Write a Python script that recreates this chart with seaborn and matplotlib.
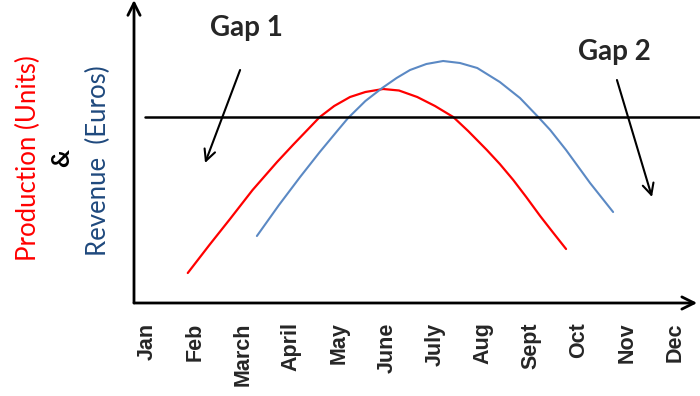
import matplotlib
matplotlib.use("Agg")
import matplotlib.pyplot as plt
import pandas as pd
import seaborn as sns

# month axis
months = ["Jan", "Feb", "March", "April", "May", "June",
          "July", "Aug", "Sept", "Oct", "Nov", "Dec"]

# production curve (red): month position / height
prod_x = [0.85, 1.30, 1.73, 2.20, 2.71, 3.05, 3.33, 3.60, 3.90, 4.23, 4.55, 4.92,
          5.25, 5.63, 6.00, 6.38, 6.69, 7.08, 7.35, 7.63, 7.90, 8.19, 8.45, 8.73]
prod_y = [30, 58, 84, 113, 141, 158.5, 172.5, 186, 197, 206, 211, 214,
          212.5, 206, 197, 186, 172, 153, 139, 123, 106, 87, 71, 54]

# revenue curve (blue)
rev_x = [2.29, 2.75, 3.19, 3.60, 3.98, 4.19, 4.55, 4.90, 5.20, 5.48, 5.82, 6.17,
         6.52, 6.88, 7.35, 7.77, 8.15, 8.40, 8.73, 9.23, 9.71]
rev_y = [67, 98, 126, 151, 173, 185, 202, 215, 225, 233, 239, 242,
         240, 235, 221, 205, 186, 173, 153, 120, 91]

# break-even level
level = 186

prod = pd.DataFrame({"month": prod_x, "value": prod_y})
rev = pd.DataFrame({"month": rev_x, "value": rev_y})

sns.set_style("white")

fig = plt.figure(figsize=(7, 3.96), dpi=100)
ax = fig.add_axes([134 / 700, 93 / 396, 566 / 700, 303 / 396])

sns.lineplot(data=prod, x="month", y="value", sort=False, color="#FF0000", lw=1.6, ax=ax)
sns.lineplot(data=rev, x="month", y="value", sort=False, color="#5B89C4", lw=1.5, ax=ax)
ax.axhline(level, xmin=0.02, xmax=1, color="black", lw=1.8)

ax.set_xlim(-0.27, 11.52)
ax.set_ylim(0, 303)
for s in ax.spines.values():
    s.set_visible(False)
ax.set_xlabel("")
ax.set_ylabel("")
ax.set_yticks([])
ax.set_xticks(range(len(months)))
ax.set_xticklabels(months, rotation=90, va="top", ha="center",
                   fontsize=15.5, fontweight="bold", family="Liberation Sans")
ax.tick_params(axis="x", length=0, pad=14)

# axis arrows
arrow = dict(arrowstyle="->", lw=2, color="black", mutation_scale=22, shrinkA=0, shrinkB=0)
ax.annotate("", xy=(0, 1.0), xytext=(0, 0), xycoords="axes fraction",
            arrowprops=arrow, annotation_clip=False)
ax.annotate("", xy=(0.995, 0), xytext=(0, 0), xycoords="axes fraction",
            arrowprops=arrow, annotation_clip=False)

# gap annotations
gap_arrow = dict(arrowstyle="->", lw=1.5, color="black", mutation_scale=20, shrinkA=0, shrinkB=0)
ax.text(2.08, 275, "Gap 1", fontsize=20, fontweight="bold", family="Lato",
        ha="center", va="center")
ax.annotate("", xy=(1.21, 140), xytext=(1.94, 233), arrowprops=gap_arrow)
ax.text(9.73, 251, "Gap 2", fontsize=20, fontweight="bold", family="Lato",
        ha="center", va="center")
ax.annotate("", xy=(10.52, 106), xytext=(9.79, 223), arrowprops=gap_arrow)

# y axis title in three rotated lines
fig.text(28 / 700, 1 - 158 / 396, "Production (Units)", rotation=90, color="#FF0000",
         fontsize=18.5, family="Lato", ha="center", va="center")
fig.text(62 / 700, 1 - 158 / 396, "&", rotation=90, color="black",
         fontsize=18, fontweight="bold", family="Lato", ha="center", va="center")
fig.text(98 / 700, 1 - 161 / 396, "Revenue  (Euros)", rotation=90, color="#1F497D",
         fontsize=18.5, family="Lato", ha="center", va="center")

fig.savefig("out.png", dpi=100)
